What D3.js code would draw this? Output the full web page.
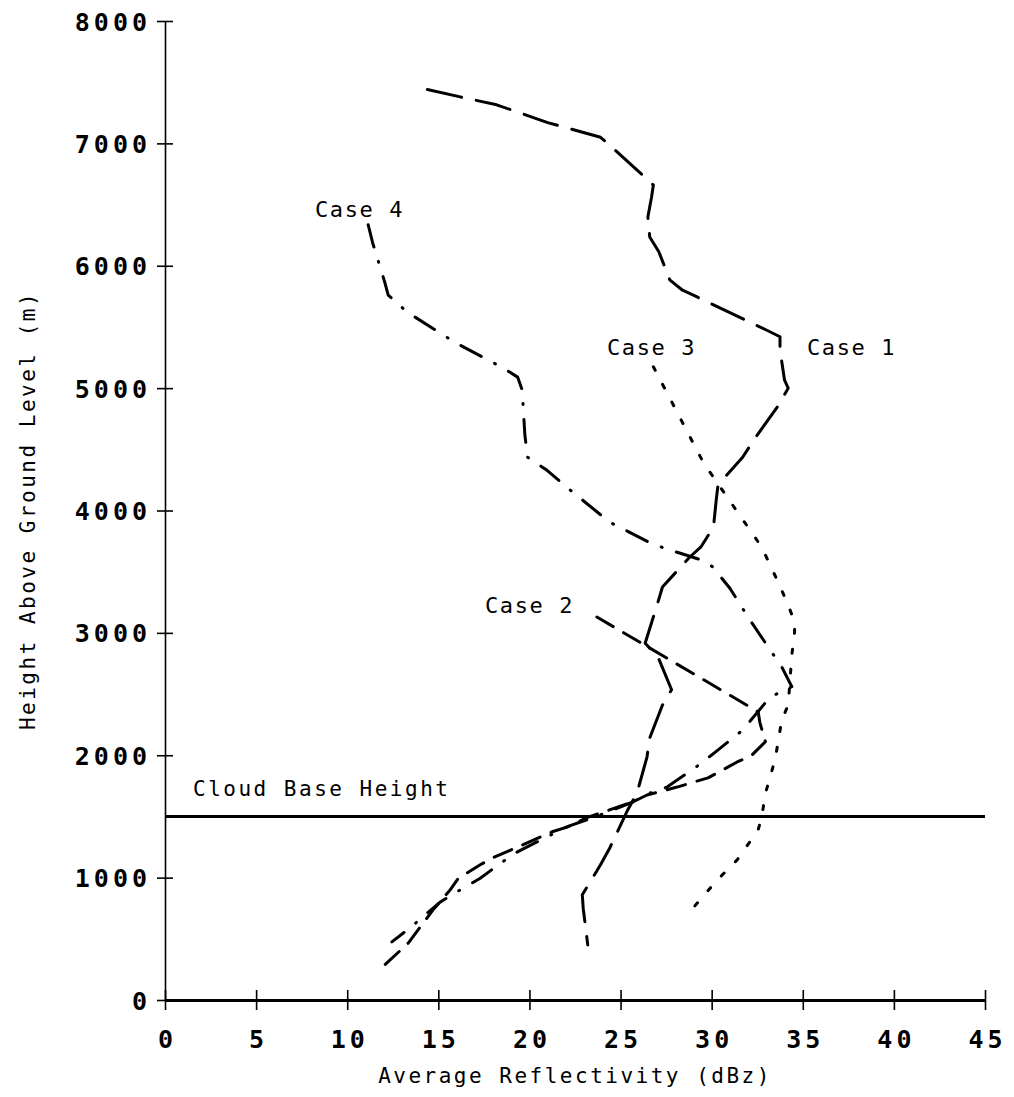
<!DOCTYPE html>
<html>
<head>
<meta charset="utf-8">
<script src="https://cdn.jsdelivr.net/npm/d3@7"></script>
<style>
  body { margin: 0; background: #fff; }
  svg { display: block; }
</style>
</head>
<body>
<div id="chart"></div>
<script>
// values: reflectivity (dBz) and height above ground (m)
const case1Dbz = [14.4, 16.2, 18.2, 21.0, 23.9, 24.7, 26.8, 26.7, 26.5, 26.6, 27.1, 27.7, 28.4, 29.2, 33.0, 33.75, 33.75, 34.0, 34.2, 33.6, 32.3, 31.7, 30.35, 30.25, 30.1, 29.4, 28.8, 27.3, 27.05, 26.35, 27.05, 27.8, 27.3, 26.6, 26.45, 25.9, 25.4, 24.4, 23.9, 22.9, 22.95, 23.2];
const case1Height = [7440, 7380, 7315, 7170, 7050, 6945, 6660, 6560, 6400, 6235, 6115, 5885, 5800, 5745, 5475, 5420, 5310, 5065, 5000, 4845, 4575, 4435, 4210, 4085, 3865, 3700, 3620, 3375, 3250, 2915, 2805, 2535, 2410, 2140, 1985, 1690, 1555, 1240, 1105, 860, 750, 450];

const case2Dbz = [23.7, 32.55, 32.65, 32.95, 32.2, 31.4, 29.8, 28.1, 26.45, 25.7, 23.15, 22.1, 21.25, 19.6, 17.95, 17.3, 16.1, 15.65, 14.7, 13.35, 12.05];
const case2Height = [3130, 2355, 2265, 2110, 2000, 1945, 1815, 1740, 1675, 1620, 1490, 1415, 1375, 1265, 1160, 1105, 995, 900, 735, 465, 285];

const case3Dbz = [26.8, 29.55, 30.85, 32.75, 33.6, 34.15, 34.55, 34.55, 34.4, 34.2, 33.85, 33.5, 33.2, 32.95, 32.75, 32.55, 31.4, 30.3, 28.65];
const case3Height = [5175, 4390, 4110, 3700, 3430, 3245, 3090, 3005, 2820, 2410, 2290, 1980, 1815, 1690, 1495, 1390, 1145, 980, 695];

const case4Dbz = [11.15, 11.4, 12.05, 12.25, 13.3, 15.9, 18.55, 19.35, 19.6, 19.75, 19.9, 20.95, 22.05, 24.4, 26.5, 27.35, 29.45, 30.05, 31.0, 32.1, 33.85, 34.4, 33.2, 31.7, 30.2, 29.2, 27.55, 26.6, 25.7, 23.85, 22.05, 19.2, 18.3, 17.3, 16.2, 15.1, 13.45, 12.45];
const case4Height = [6335, 6185, 5870, 5760, 5620, 5375, 5165, 5090, 4985, 4615, 4435, 4330, 4190, 3905, 3745, 3695, 3595, 3540, 3365, 3105, 2720, 2560, 2475, 2205, 2025, 1910, 1740, 1690, 1620, 1510, 1415, 1200, 1105, 995, 900, 800, 590, 475];

const caseNames = ["Case 1", "Case 2", "Case 3", "Case 4"];
const cloudBaseHeight = 1500;
const xTickValues = [0, 5, 10, 15, 20, 25, 30, 35, 40, 45];
const yTickValues = [0, 1000, 2000, 3000, 4000, 5000, 6000, 7000, 8000];

const width = 1014, height = 1097;
const plot = { left: 165, right: 985, top: 21, bottom: 1000 };
const labelFont = "'DejaVu Sans Mono', 'Liberation Mono', monospace";

const svg = d3.select("#chart").append("svg")
    .attr("width", width)
    .attr("height", height);

const x = d3.scaleLinear().domain([0, 45]).range([plot.left, plot.right]);
const y = d3.scaleLinear().domain([0, 8000]).range([plot.bottom, plot.top]);

// x axis, ticks cross the line
const xAxis = svg.append("g")
    .attr("transform", "translate(0," + plot.bottom + ")")
    .call(d3.axisBottom(x).tickValues(xTickValues).tickFormat(d3.format("d")).tickSizeOuter(0).tickPadding(0));
xAxis.select(".domain").attr("stroke", "#000").attr("stroke-width", 3);
xAxis.selectAll(".tick line").attr("y1", -10).attr("y2", 10).attr("stroke-width", 1.6);
xAxis.selectAll(".tick text")
    .attr("y", 48)
    .attr("dy", 0)
    .attr("dx", 2)
    .attr("font-family", labelFont)
    .attr("font-weight", "bold")
    .attr("font-size", 25)
    .attr("letter-spacing", 4)
    .attr("fill", "#000");

// y axis
const yAxis = svg.append("g")
    .attr("transform", "translate(" + plot.left + ",0)")
    .call(d3.axisLeft(y).tickValues(yTickValues).tickFormat(d3.format("d")).tickSizeOuter(0).tickPadding(0));
yAxis.select(".domain").attr("stroke", "#000").attr("stroke-width", 1.6);
yAxis.selectAll(".tick line").attr("x1", -8).attr("x2", 8).attr("stroke-width", 1.6);
yAxis.selectAll(".tick text")
    .attr("x", -14)
    .attr("dy", "0.36em")
    .attr("font-family", labelFont)
    .attr("font-weight", "bold")
    .attr("font-size", 25)
    .attr("letter-spacing", 4)
    .attr("fill", "#000");

// axis titles
svg.append("text")
    .attr("x", (plot.left + plot.right) / 2)
    .attr("y", 1083)
    .attr("text-anchor", "middle")
    .attr("font-family", labelFont)
    .attr("font-size", 21)
    .attr("letter-spacing", 2.5)
    .text("Average Reflectivity (dBz)");

svg.append("text")
    .attr("transform", "translate(35," + ((plot.top + plot.bottom) / 2) + ") rotate(-90)")
    .attr("text-anchor", "middle")
    .attr("font-family", labelFont)
    .attr("font-size", 21)
    .attr("letter-spacing", 2.5)
    .text("Height Above Ground Level (m)");

// cloud base
svg.append("line")
    .attr("x1", x(0)).attr("x2", x(45))
    .attr("y1", y(cloudBaseHeight)).attr("y2", y(cloudBaseHeight))
    .attr("stroke", "#000")
    .attr("stroke-width", 3);

svg.append("text")
    .attr("x", 193)
    .attr("y", 796)
    .attr("font-family", labelFont)
    .attr("font-size", 21)
    .attr("letter-spacing", 2.5)
    .text("Cloud Base Height");

// profiles
const series = [
    { dbz: case1Dbz, h: case1Height, dash: "35,15" },
    { dbz: case2Dbz, h: case2Height, dash: "19,12" },
    { dbz: case3Dbz, h: case3Height, dash: "4,16" },
    { dbz: case4Dbz, h: case4Height, dash: "23,15,1,15" }
];

const line = d3.line()
    .x(d => x(d[0]))
    .y(d => y(d[1]));

svg.append("g")
    .selectAll("path")
    .data(series)
    .enter()
    .append("path")
        .attr("d", d => line(d.dbz.map((v, i) => [v, d.h[i]])))
        .attr("fill", "none")
        .attr("stroke", "#000")
        .attr("stroke-width", 3)
        .attr("stroke-linecap", "round")
        .attr("stroke-linejoin", "round")
        .attr("stroke-dasharray", d => d.dash);

// case labels
const labelPos = [
    { x: 807, y: 355 },
    { x: 485, y: 613 },
    { x: 607, y: 355 },
    { x: 315, y: 217 }
];

svg.append("g")
    .selectAll("text")
    .data(caseNames)
    .enter()
    .append("text")
        .attr("x", (d, i) => labelPos[i].x)
        .attr("y", (d, i) => labelPos[i].y)
        .attr("font-family", labelFont)
        .attr("font-size", 22)
        .attr("letter-spacing", 1.6)
        .text(d => d);
</script>
</body>
</html>
